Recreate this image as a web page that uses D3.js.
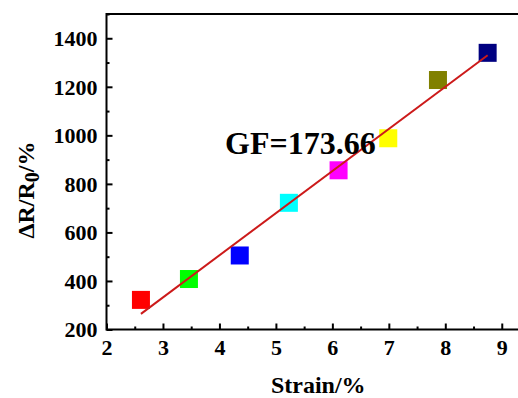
<!DOCTYPE html>
<html>
<head>
<meta charset="utf-8">
<script src="https://cdn.jsdelivr.net/npm/d3@7"></script>
<style>
  body { margin: 0; background: #fff; }
  text { font-family: "Times New Roman", "Liberation Serif", serif; font-weight: bold; fill: #000; }
</style>
</head>
<body>
<svg id="chart" width="518" height="398"></svg>
<script>
// Data
var strain = [2.61, 3.46, 4.36, 5.23, 6.11, 6.99, 7.87, 8.75];
var deltaR = [322, 408, 505, 722, 856, 988, 1228, 1340];
var pointColors = ["#ff0000", "#00ff00", "#0000ff", "#00ffff", "#ff00ff", "#ffff00", "#808000", "#000080"];
var xTicks = [2, 3, 4, 5, 6, 7, 8, 9];
var yTicks = [200, 400, 600, 800, 1000, 1200, 1400];

var svg = d3.select("#chart");
var serif = "'Times New Roman', 'Liberation Serif', serif";

var x = d3.scaleLinear().domain([2, 9.5]).range([106.5, 530]);
var y = d3.scaleLinear().domain([200, 1500]).range([329.5, 14]);

// linear fit -> gauge factor
function fit(xs, ys) {
    var mx = d3.mean(xs), my = d3.mean(ys);
    var sxy = 0, sxx = 0;
    for (var i = 0; i < xs.length; i++) {
        sxy += (xs[i] - mx) * (ys[i] - my);
        sxx += (xs[i] - mx) * (xs[i] - mx);
    }
    var slope = sxy / sxx;
    return { slope: slope, intercept: my - slope * mx };
}
var lf = fit(strain, deltaR);

// frame
svg.append("rect")
    .attr("x", x(2)).attr("y", y(1500))
    .attr("width", x(9.5) - x(2)).attr("height", y(200) - y(1500))
    .attr("fill", "none").attr("stroke", "#000").attr("stroke-width", 2);

// x axis, ticks pointing inward
var xAxis = svg.append("g")
    .attr("transform", "translate(0," + y(200) + ")")
    .call(d3.axisBottom(x).tickValues(xTicks).tickFormat(d3.format("d")).tickSize(-6).tickPadding(8));
svg.append("g")
    .attr("transform", "translate(0," + y(200) + ")")
    .call(d3.axisBottom(x).tickValues(xTicks.map(function(d) { return d + 0.5; })).tickFormat("").tickSize(-3));

var yAxis = svg.append("g")
    .attr("transform", "translate(" + x(2) + ",0)")
    .call(d3.axisLeft(y).tickValues(yTicks).tickFormat(d3.format("d")).tickSize(-6).tickPadding(9));
svg.append("g")
    .attr("transform", "translate(" + x(2) + ",0)")
    .call(d3.axisLeft(y).tickValues(yTicks.map(function(d) { return d + 100; })).tickFormat("").tickSize(-3));

svg.selectAll(".domain").remove();
svg.selectAll(".tick line").attr("stroke", "#000").attr("stroke-width", 2);
svg.selectAll("g")
    .attr("font-family", serif)
    .attr("font-size", 22)
    .attr("font-weight", "bold");
svg.selectAll(".tick text").attr("fill", "#000");
yAxis.selectAll(".tick text").attr("dy", "0.34em");
xAxis.selectAll(".tick text").attr("dy", "0.78em");

// squares
svg.append("g")
    .selectAll("rect")
    .data(strain)
    .enter()
    .append("rect")
    .attr("x", function(d) { return x(d) - 9; })
    .attr("y", function(d, i) { return y(deltaR[i]) - 9; })
    .attr("width", 18).attr("height", 18)
    .attr("fill", function(d, i) { return pointColors[i]; });

// fit line
var x0 = d3.min(strain), x1 = d3.max(strain);
svg.append("line")
    .attr("x1", x(x0)).attr("y1", y(lf.slope * x0 + lf.intercept))
    .attr("x2", x(x1)).attr("y2", y(lf.slope * x1 + lf.intercept))
    .attr("stroke", "#cc1a1a").attr("stroke-width", 2);

// annotation
svg.append("text")
    .attr("x", x(4.1)).attr("y", y(925))
    .style("font-size", "32px")
    .text("GF=173.66");

// axis titles
svg.append("text")
    .attr("x", (x(2) + x(9.5)) / 2).attr("y", 393)
    .attr("text-anchor", "middle")
    .style("font-size", "24px")
    .text("Strain/%");

var yl = svg.append("text")
    .attr("transform", "translate(34,190) rotate(-90)")
    .attr("text-anchor", "middle")
    .style("font-size", "24px");
yl.append("tspan").text("\u0394R/R");
yl.append("tspan").attr("dy", 5).style("font-size", "20px").text("0");
yl.append("tspan").attr("dy", -5).text("/%");
</script>
</body>
</html>
